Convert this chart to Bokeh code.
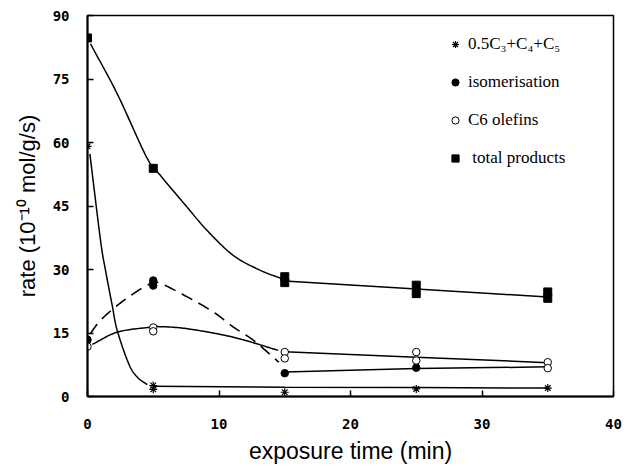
import numpy as np
from bokeh.plotting import figure
from bokeh.models import Legend, LegendItem, FixedTicker, Range1d, Title
from bokeh.embed import file_html
from bokeh.resources import INLINE

# ---- data ----
x_ticks = [0, 10, 20, 30, 40]
y_ticks = [0, 15, 30, 45, 60, 75, 90]

# measured points (exposure time in min, rate in 1e-10 mol/g/s)
crack_t = [0, 5, 5, 15, 25, 35]
crack_v = [59.1, 2.6, 1.7, 1.0, 1.8, 2.0]

isom_t = [0, 5, 5, 15, 25]
isom_v = [13.4, 27.4, 26.2, 5.5, 6.8]

olef_t = [0, 5, 5, 15, 15, 25, 25, 35, 35]
olef_v = [11.8, 16.3, 15.4, 10.5, 9.0, 10.5, 8.5, 8.1, 6.7]

total_t = [0, 5, 15, 15, 25, 25, 35, 35]
total_v = [84.7, 53.9, 28.3, 26.9, 26.3, 24.3, 24.7, 23.2]

# fitted curves as traced in the picture
crack_fit_t = [0.18, 0.99, 1.37, 1.88, 2.26, 3.14, 3.78, 4.54]
crack_fit_v = [57.3, 36.9, 29.8, 21.5, 15.6, 7.7, 4.6, 2.8]
crack_line_t = [5, 15, 25, 35]
crack_line_v = [2.4, 2.2, 2.1, 2.0]

isom_fit_t = [0.2, 0.99, 2.26, 3.5, 4.5, 5.3, 7.6, 9.6, 11.1, 12.65, 14.55]
isom_fit_v = [14.8, 18.0, 21.5, 24.3, 26.2, 27.0, 23.5, 19.9, 16.4, 13.2, 8.1]
isom_line_t = [15, 25, 35]
isom_line_v = [5.8, 6.6, 7.0]

olef_fit_t = [0.36, 2.26, 4.6, 5.5, 7.6, 11.1, 14.5]
olef_fit_v = [12.3, 15.2, 16.3, 16.5, 16.0, 14.0, 10.9]
olef_line_t = [15, 25, 35]
olef_line_v = [10.6, 9.3, 8.0]

total_fit_t = [0.23, 2.26, 4.5, 5.55, 7.5, 9.1, 11.1, 13.15, 15]
total_fit_v = [83.3, 71.5, 56.5, 52.2, 45.0, 39.2, 33.3, 29.8, 27.6]
total_line_t = [15, 25, 35]
total_line_v = [27.3, 25.4, 23.5]

labels = ["0.5C\u2083+C\u2084+C\u2085", "isomerisation", "C6 olefins", " total products"]


def smooth(xs, ys, n=24):
    pts = np.column_stack([xs, ys]).astype(float)
    p = np.vstack([2 * pts[0] - pts[1], pts, 2 * pts[-1] - pts[-2]])
    t = np.linspace(0, 1, n, endpoint=False)[:, None]
    out = []
    for i in range(1, len(p) - 2):
        p0, p1, p2, p3 = p[i - 1], p[i], p[i + 1], p[i + 2]
        seg = 0.5 * (2 * p1 + (-p0 + p2) * t + (2 * p0 - 5 * p1 + 4 * p2 - p3) * t ** 2
                     + (-p0 + 3 * p1 - 3 * p2 + p3) * t ** 3)
        out.append(seg)
    out.append(pts[-1:])
    a = np.vstack(out)
    return list(a[:, 0]), list(a[:, 1])


p = figure(width=625, height=469, x_range=Range1d(0, 40), y_range=Range1d(0, 90),
           output_backend="svg", toolbar_location=None,
           min_border_left=87, min_border_right=12, min_border_top=15, min_border_bottom=73)
p.background_fill_color = "white"
p.border_fill_color = "white"
p.xgrid.visible = False
p.ygrid.visible = False
p.outline_line_color = "black"
p.outline_line_width = 1.5

p.xaxis.ticker = FixedTicker(ticks=x_ticks)
p.yaxis.ticker = FixedTicker(ticks=y_ticks)
for ax in (p.xaxis[0], p.yaxis[0]):
    ax.major_tick_in = 6
    ax.major_tick_out = 0
    ax.minor_tick_in = 0
    ax.minor_tick_out = 0
    ax.axis_line_width = 2
    ax.major_tick_line_width = 1.5
    ax.major_label_text_font = "DejaVu Sans Mono"
    ax.major_label_text_font_size = "14px"
    ax.major_label_text_font_style = "bold"
    ax.major_label_text_color = "black"
p.xaxis.major_label_standoff = 22
p.yaxis.major_label_standoff = 18

p.yaxis.axis_label = "rate (10\u207b\u00b9\u2070 mol/g/s)"
p.yaxis.axis_label_text_font = "Liberation Sans"
p.yaxis.axis_label_text_font_size = "22px"
p.yaxis.axis_label_text_font_style = "normal"
p.yaxis.axis_label_text_color = "black"
p.yaxis.axis_label_standoff = 10

p.add_layout(Title(text="exposure time (min)", align="center", offset=21,
                   text_font="Liberation Sans", text_font_size="23px",
                   text_font_style="normal", text_color="black", standoff=8), "below")

# curves
cx, cy = smooth(crack_fit_t, crack_fit_v)
p.line(cx, cy, line_color="black", line_width=1.5)
p.line(crack_line_t, crack_line_v, line_color="black", line_width=1.5)

ix, iy = smooth(isom_fit_t, isom_fit_v)
p.line(ix, iy, line_color="black", line_width=1.6, line_dash="12 7")
p.line(isom_line_t, isom_line_v, line_color="black", line_width=1.5)

ox, oy = smooth(olef_fit_t, olef_fit_v)
p.line(ox, oy, line_color="black", line_width=1.5)
p.line(olef_line_t, olef_line_v, line_color="black", line_width=1.5)

tx, ty = smooth(total_fit_t, total_fit_v)
p.line(tx, ty, line_color="black", line_width=1.5)
p.line(total_line_t, total_line_v, line_color="black", line_width=1.5)

# markers
r_crack = p.scatter(crack_t, crack_v, marker="asterisk", size=8, line_color="black", line_width=1.2)
r_isom = p.scatter(isom_t, isom_v, marker="circle", size=7.5, fill_color="black", line_color="black")
r_olef = p.scatter(olef_t, olef_v, marker="circle", size=7.5, fill_color="white", line_color="black", line_width=1)
r_total = p.scatter(total_t, total_v, marker="square", size=8, fill_color="black", line_color="black")

legend = Legend(items=[LegendItem(label=labels[0], renderers=[r_crack]),
                       LegendItem(label=labels[1], renderers=[r_isom]),
                       LegendItem(label=labels[2], renderers=[r_olef]),
                       LegendItem(label=labels[3], renderers=[r_total])],
                location=(359, 228), glyph_width=18, glyph_height=20, label_height=20,
                label_standoff=4, spacing=18, padding=0, margin=0,
                border_line_alpha=0, background_fill_alpha=0,
                label_text_font="Liberation Serif", label_text_font_size="17px",
                label_text_color="black")
p.add_layout(legend)

open("out.html", "w").write(file_html(p, INLINE))
